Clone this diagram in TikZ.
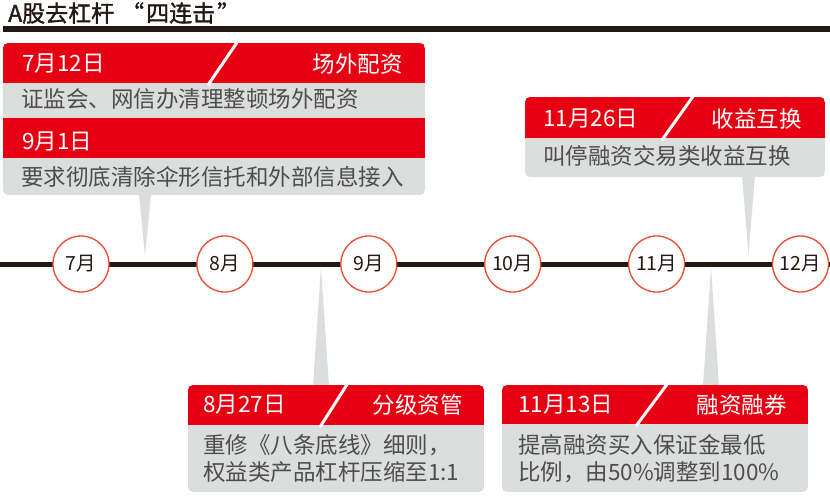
\documentclass[tikz,border=0pt]{standalone}
\usepackage{fontspec}
\newfontfamily\cjk{Noto Sans CJK SC}
\newfontfamily\cjkt[FakeBold=1.3]{Noto Sans CJK SC}
\definecolor{hred}{HTML}{E60012}
\definecolor{bgray}{HTML}{DCDDDD}
\definecolor{tgray}{HTML}{4D4D4D}
\definecolor{tl}{HTML}{231815}
\definecolor{ring}{HTML}{E94B2D}
\tikzset{
  hdrtxt/.style={inner sep=0pt, text=white, font=\cjk\fontsize{22.5}{26}\selectfont},
  bodytxt/.style={inner sep=0pt, text=tgray, font=\cjk\fontsize{22.5}{26}\selectfont},
  month/.style={circle, draw=ring, line width=1.3pt, fill=white, minimum size=56pt, inner sep=0pt, text=tl, font=\cjk\fontsize{19.5}{22}\selectfont},
  slash/.style={draw=white, line width=3pt},
  ptr/.style={fill=bgray},
}
\begin{document}
\begin{tikzpicture}[x=1pt,y=-1pt]
\useasboundingbox (0,0) rectangle (830,500);
% title
\node[anchor=west, inner sep=0pt, text=tl, font=\cjkt\fontsize{23}{26}\selectfont] (title) at (8,13) {A股去杠杆\hspace{7pt}“\hspace{2pt}四连击\hspace{2pt}”};
\fill[tl] (3,26) rectangle (830,32);

% timeline
\draw[tl, line width=5pt] (0,264.5) coordinate (tlL) -- (830,264.5) coordinate (tlR);

% pointers
\fill[ptr] (139,194) -- (151,194) -- (145,256) -- cycle;
\fill[ptr] (742,176) -- (755,176) -- (748.5,254) -- cycle;
\fill[ptr] (313,386) -- (329,386) -- (321,267) -- cycle;
\fill[ptr] (703,386) -- (719,386) -- (711,267) -- cycle;

% months
\foreach \mm [count=\i from 0] in {7,8,9,10,11,12}{
  \node[month] (m\mm) at ({81+143.9*\i},264) {{\mm}月};
}

% box 1
\begin{scope}
\clip[rounded corners=5pt] (3,43) rectangle (425,195);
\fill[bgray] (3,43) rectangle (425,195);
\fill[hred] (3,43) rectangle (425,83);
\fill[hred] (3,118) rectangle (425,158);
\draw[slash] (238,41) -- (208,85);
\end{scope}
\node[hdrtxt, anchor=west] (d1) at (22,64) {7月12日};
\node[hdrtxt, anchor=east] (k1) at (403,64) {场外配资};
\node[bodytxt, anchor=west] (b1) at (21,99) {证监会、网信办清理整顿场外配资};
\node[hdrtxt, anchor=west] (d2) at (22,142) {9月1日};
\node[bodytxt, anchor=west] (b2) at (21,177) {要求彻底清除伞形信托和外部信息接入};

% box 2
\begin{scope}
\clip[rounded corners=5pt] (525,97) rectangle (825,177);
\fill[bgray] (525,97) rectangle (825,177);
\fill[hred] (525,97) rectangle (825,138);
\draw[slash] (694,95) -- (662,140);
\end{scope}
\node[hdrtxt, anchor=west] (d3) at (543,119) {11月26日};
\node[hdrtxt, anchor=east] (k3) at (802,119) {收益互换};
\node[bodytxt, anchor=west] (b3) at (543,156) {叫停融资交易类收益互换};

% box 3
\begin{scope}
\clip[rounded corners=5pt] (188,385) rectangle (484,492);
\fill[bgray] (188,385) rectangle (484,492);
\fill[hred] (188,385) rectangle (484,425);
\draw[slash] (348,383) -- (320,427);
\end{scope}
\node[hdrtxt, anchor=west] (d4) at (203,405) {8月27日};
\node[hdrtxt, anchor=east] (k4) at (463,405) {分级资管};
\node[bodytxt, anchor=west] (b4a) at (203,445) {重修《八条底线》细则，};
\node[bodytxt, anchor=west] (b4b) at (203,472) {权益类产品杠杆压缩至1:1};

% box 4
\begin{scope}
\clip[rounded corners=5pt] (502,385) rectangle (808,492);
\fill[bgray] (502,385) rectangle (808,492);
\fill[hred] (502,385) rectangle (808,424);
\draw[slash] (668,383) -- (636,426);
\end{scope}
\node[hdrtxt, anchor=west] (d5) at (518,405) {11月13日};
\node[hdrtxt, anchor=east] (k5) at (787,405) {融资融券};
\node[bodytxt, anchor=west] (b5a) at (518,445) {提高融资买入保证金最低};
\node[bodytxt, anchor=west] (b5b) at (518,472) {比例，由50\%调整到100\%};
\end{tikzpicture}
\end{document}
